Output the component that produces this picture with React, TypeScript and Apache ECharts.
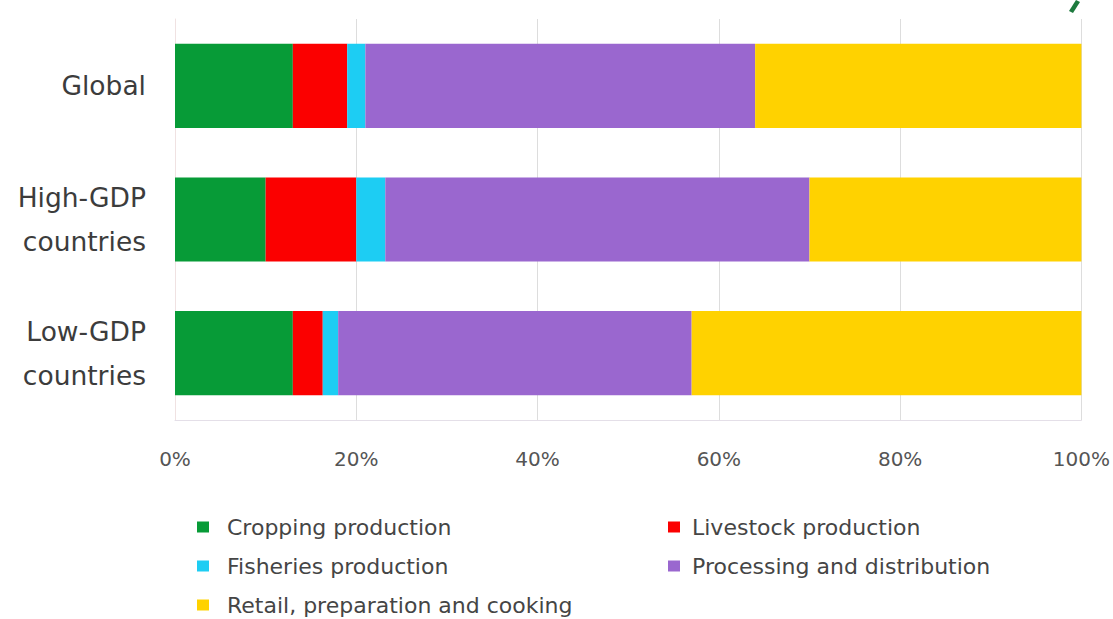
import React, { useEffect, useRef } from "react";
import * as echarts from "echarts";

const categories = ["Global", "High-GDP\ncountries", "Low-GDP\ncountries"];
const seriesNames = [
  "Cropping production",
  "Livestock production",
  "Fisheries production",
  "Processing and distribution",
  "Retail, preparation and cooking",
];
const cropping = [13, 10, 13];
const livestock = [6, 10, 3.3];
const fisheries = [2, 3.2, 1.7];
const processing = [43, 46.8, 39];
const retail = [36, 30, 43];
const seriesValues = [cropping, livestock, fisheries, processing, retail];
const colors = ["#079b37", "#fb0000", "#1dcdf3", "#9a67cf", "#ffd200"];
const tickLabels = ["0%", "20%", "40%", "60%", "80%", "100%"];

export default function App() {
  const ref = useRef<HTMLDivElement>(null);
  useEffect(() => {
    document.body.style.margin = "0";
    document.body.style.overflow = "hidden";
    const chart = echarts.init(ref.current!, null, { renderer: "svg" });
    const font = "'DejaVu Sans', Verdana, sans-serif";
    const legendBase = {
      orient: "vertical" as const,
      icon: "rect",
      itemWidth: 12,
      itemHeight: 11,
      itemGap: 17,
      selectedMode: false,
      padding: 0,
    };
    chart.setOption({
      animation: false,
      backgroundColor: "#ffffff",
      color: colors,
      grid: { left: 175, right: 29, top: 19, bottom: 199, containLabel: false },
      xAxis: {
        type: "value",
        min: 0,
        max: 100,
        interval: 20,
        axisLabel: {
          formatter: (v: number) => tickLabels[Math.round(v / 20)],
          fontSize: 20,
          color: "#555555",
          fontFamily: font,
          margin: 29,
        },
        axisLine: { show: true, lineStyle: { color: "#e4dfe8", width: 1 } },
        axisTick: { show: false },
        splitLine: { show: true, lineStyle: { color: "#dddddd", width: 1 } },
      },
      yAxis: {
        type: "category",
        data: categories,
        inverse: true,
        axisLabel: {
          fontSize: 26.5,
          color: "#3c3c3c",
          fontFamily: font,
          lineHeight: 44,
          margin: 29,
          align: "right",
        },
        axisLine: { show: true, lineStyle: { color: "#f0e2e2", width: 1 } },
        axisTick: { show: false },
        splitLine: { show: false },
      },
      legend: [
        {
          ...legendBase,
          left: 197,
          top: 516,
          data: [seriesNames[0], seriesNames[2], seriesNames[4]],
          textStyle: {
            fontSize: 22,
            lineHeight: 22,
            color: "#454545",
            fontFamily: font,
            padding: [0, 0, 0, 13],
          },
        },
        {
          ...legendBase,
          left: 668,
          top: 516,
          data: [seriesNames[1], seriesNames[3]],
          textStyle: {
            fontSize: 22,
            lineHeight: 22,
            color: "#454545",
            fontFamily: font,
            padding: [0, 0, 0, 7],
          },
        },
      ],
      graphic: [
        {
          type: "polygon",
          shape: { points: [[1069, 11], [1076, 0], [1080, 2], [1073, 13]] },
          style: { fill: "#1d7a3e" },
        },
      ],
      series: seriesNames.map((name, i) => ({
        name,
        type: "bar",
        stack: "total",
        barWidth: "63%",
        data: seriesValues[i],
        itemStyle: { color: colors[i] },
      })),
    });
    return () => chart.dispose();
  }, []);
  return (
    <div
      ref={ref}
      style={{
        position: "absolute",
        left: 0,
        top: 0,
        width: 1113,
        height: 619,
        overflow: "hidden",
      }}
    />
  );
}
